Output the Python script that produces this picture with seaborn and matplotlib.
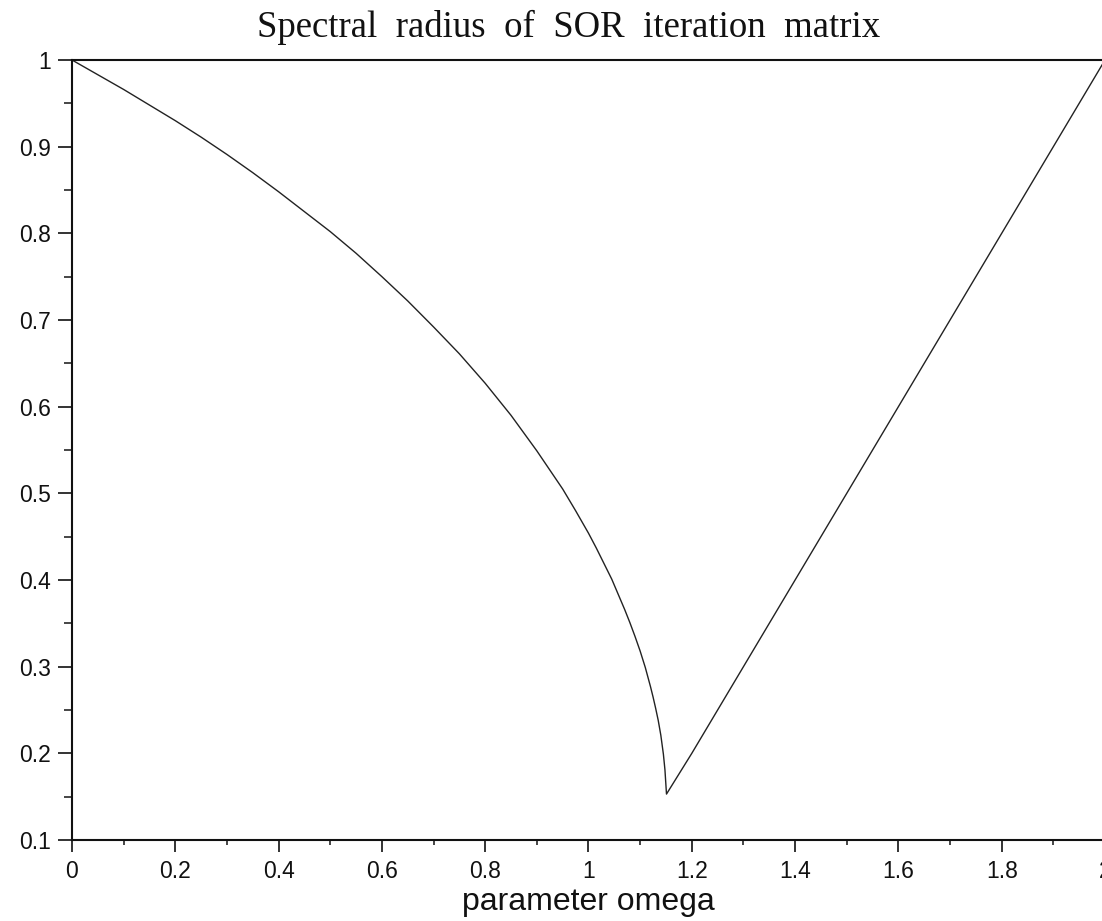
import matplotlib
matplotlib.use("Agg")
import matplotlib.pyplot as plt
from matplotlib.ticker import MultipleLocator, FuncFormatter
import seaborn as sns
import pandas as pd

# values
omega = [0.0, 0.05, 0.1, 0.15, 0.2, 0.25, 0.3, 0.35, 0.4, 0.45, 0.5, 0.55,
         0.6, 0.65, 0.7, 0.75, 0.8, 0.85, 0.9, 0.95, 0.975, 1.0, 1.015,
         1.03, 1.045, 1.06, 1.07, 1.08, 1.09, 1.10, 1.11, 1.12, 1.125, 1.13,
         1.135, 1.14, 1.145, 1.148, 1.151,
         1.2, 1.4, 1.6, 1.8, 2.0]
rho = [1.0, 0.983, 0.966, 0.948, 0.930, 0.911, 0.891, 0.870, 0.848, 0.825,
       0.802, 0.777, 0.750, 0.722, 0.692, 0.661, 0.627, 0.590, 0.549, 0.505,
       0.480, 0.454, 0.437, 0.419, 0.401, 0.380, 0.366, 0.351, 0.335, 0.318,
       0.299, 0.277, 0.265, 0.252, 0.238, 0.221, 0.199, 0.181, 0.153,
       0.200, 0.400, 0.600, 0.800, 1.0]

title_text = "Spectral  radius  of  SOR  iteration  matrix"
xlabel_text = "parameter omega"
x_ticks = [0, 0.2, 0.4, 0.6, 0.8, 1, 1.2, 1.4, 1.6, 1.8, 2]
y_ticks = [0.1, 0.2, 0.3, 0.4, 0.5, 0.6, 0.7, 0.8, 0.9, 1]

df = pd.DataFrame({"omega": omega, "rho": rho})

sns.set_style("ticks")
plt.rcParams["font.family"] = ["Liberation Sans", "DejaVu Sans"]

W, H = 1102, 921
fig = plt.figure(figsize=(W / 100, H / 100), dpi=100)
left, right, top, bottom = 72, 1105, 60, 840
ax = fig.add_axes([left / W, 1 - bottom / H, (right - left) / W, (bottom - top) / H])

sns.lineplot(data=df, x="omega", y="rho", color="#222222", linewidth=1.0, ax=ax,
             estimator=None, sort=True)

ax.set_xlim(0, 2)
ax.set_ylim(0.1, 1)
ax.set_xticks(x_ticks)
ax.set_yticks(y_ticks)
ax.xaxis.set_minor_locator(MultipleLocator(0.1))
ax.yaxis.set_minor_locator(MultipleLocator(0.05))
fmt = FuncFormatter(lambda v, p: "%g" % round(v, 3))
ax.xaxis.set_major_formatter(fmt)
ax.yaxis.set_major_formatter(fmt)

for s in ax.spines.values():
    s.set_visible(True)
    s.set_linewidth(1.5)
    s.set_color("#111111")

ax.tick_params(axis="y", which="major", direction="out", length=10, width=1.2,
               labelsize=16.5, pad=5, colors="#111111")
ax.tick_params(axis="y", which="minor", direction="out", length=6, width=1.2)
ax.tick_params(axis="x", which="major", direction="out", length=8.5, width=1.2,
               labelsize=16.5, pad=6, colors="#111111")
ax.tick_params(axis="x", which="minor", direction="out", length=3.6, width=1.2)
ax.tick_params(top=False, right=False)

ax.set_xlabel(xlabel_text, fontsize=23, labelpad=3, color="#111111")
ax.set_ylabel("")

fig.text(569 / W, 1 - 37 / H, title_text, ha="center", va="baseline",
         fontsize=26.5, family=["Liberation Serif", "DejaVu Serif"], color="#111111")

fig.savefig("out.png", dpi=100)
